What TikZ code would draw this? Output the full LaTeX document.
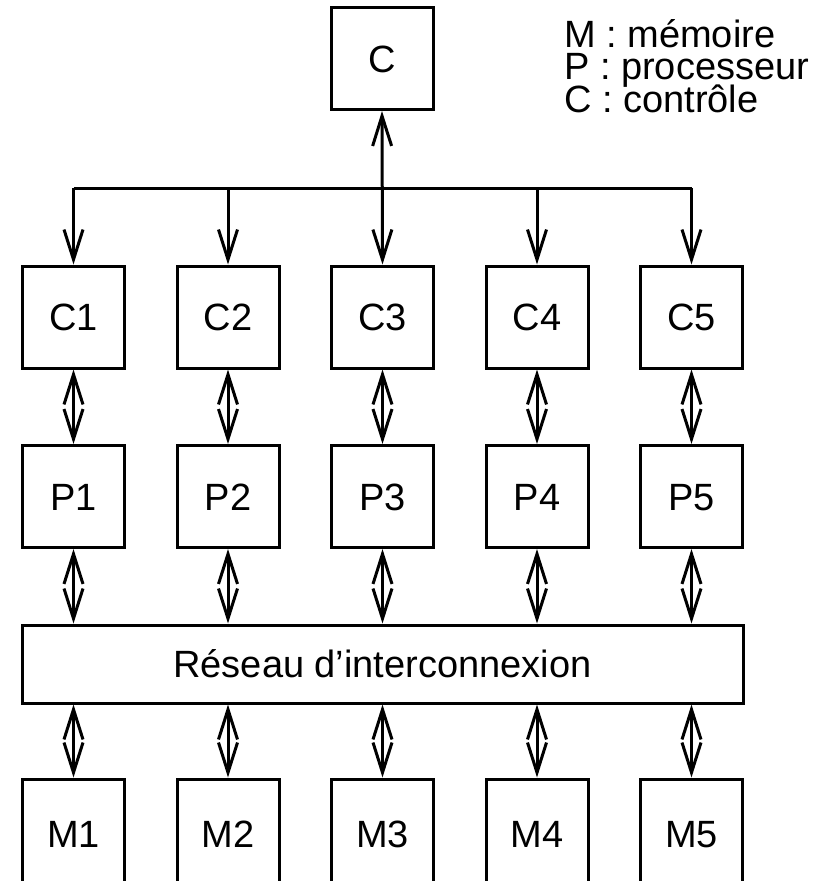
\documentclass[tikz,border=0pt]{standalone}
\usepackage{fontspec}
\setmainfont{Liberation Sans}
\usetikzlibrary{arrows.meta}
\begin{document}
\begin{tikzpicture}[x=1pt,y=-1pt,
  unit/.style={draw,line width=3pt,minimum width=102pt,minimum height=102pt,
    inner sep=0pt,text height=27pt,text depth=0pt,font=\fontsize{38}{44}\selectfont},
  legend/.style={anchor=base west,inner sep=0pt,font=\fontsize{38}{32}\selectfont},
  barb/.tip={Straight Barb[length=30pt,width=19pt,line width=3pt]},
  link/.style={line width=3pt,barb-barb},
  feed/.style={line width=3pt,-barb},
  bus/.style={line width=3pt}]
  \clip (0,0) rectangle (823,881);
  \fill[white] (0,0) rectangle (823,881);

  % global control unit and legend
  \node[unit] (c) at (382,58.5) {C};
  \node[legend] (lm) at (564,47) {M : mémoire};
  \node[legend] (lp) at (564,79) {P : processeur};
  \node[legend] (lc) at (564,112) {C : contrôle};

  % columns of control units, processors and memories
  \foreach \i/\x in {1/73.5,2/228,3/382.5,4/537,5/691.5}{
    \node[unit] (c\i) at (\x,317) {C\i};
    \node[unit] (p\i) at (\x,496.5) {P\i};
    \node[unit,minimum height=110pt] (m\i) at (\x,834) {M\i};
    \coordinate (b\i) at (\x,188);
  }

  % interconnection network
  \node[draw,line width=3pt,minimum width=721pt,minimum height=78pt,inner sep=0pt,
    font=\fontsize{38}{44}\selectfont] (net) at (382.5,664) {Réseau d’interconnexion};

  % broadcast bus from the global control unit
  \draw[bus] (b1) -- (b5);
  \draw[link] (c.south) -- (c3.north);
  \foreach \i in {1,2,4,5}{
    \draw[feed] (b\i) -- (c\i.north);
  }

  % bidirectional links
  \foreach \i in {1,...,5}{
    \draw[link] (c\i.south) -- (p\i.north);
    \draw[link] (p\i.south) -- (p\i |- net.north);
    \draw[link] (m\i |- net.south) -- (m\i.north);
  }
\end{tikzpicture}
\end{document}
